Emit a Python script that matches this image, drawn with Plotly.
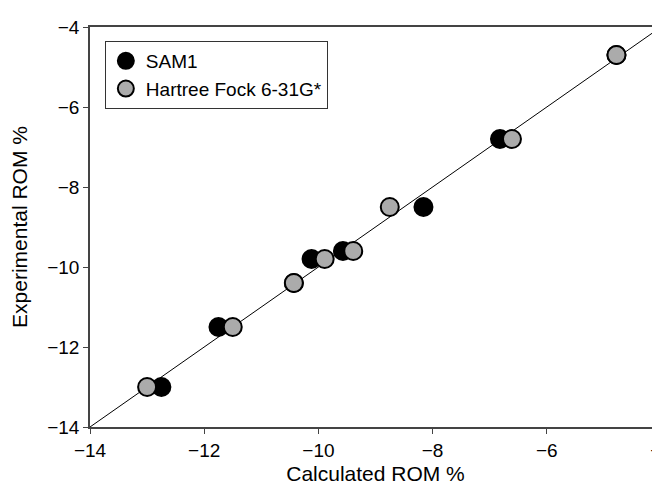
import plotly.graph_objects as go

# Data
sam1_calc = [-12.75, -11.75, -10.43, -10.12, -9.57, -8.16, -6.82, -4.78]
sam1_exp = [-13.0, -11.5, -10.4, -9.8, -9.6, -8.5, -6.8, -4.7]
hf_calc = [-13.0, -11.5, -10.43, -9.89, -9.39, -8.75, -6.61, -4.78]
hf_exp = [-13.0, -11.5, -10.4, -9.8, -9.6, -8.5, -6.8, -4.7]
line_x = [-14, -4]
line_y = [-14, -4]
tick_vals = [-14, -12, -10, -8, -6, -4]

FONT = "Liberation Sans, Arial, sans-serif"

fig = go.Figure()
fig.add_trace(go.Scatter(x=line_x, y=line_y, mode="lines",
                         line=dict(color="black", width=1), showlegend=False,
                         hoverinfo="skip"))
fig.add_trace(go.Scatter(x=sam1_calc, y=sam1_exp, mode="markers", name="SAM1",
                         marker=dict(size=18, color="black",
                                     line=dict(color="black", width=2))))
fig.add_trace(go.Scatter(x=hf_calc, y=hf_exp, mode="markers",
                         name="Hartree Fock 6-31G*",
                         marker=dict(size=18, color="#ababab",
                                     line=dict(color="black", width=2))))

axis_common = dict(range=[-14, -4], tickvals=tick_vals, ticks="outside",
                   ticklen=5, tickwidth=1.2, tickcolor="#444",
                   showline=True, linecolor="#444", linewidth=1.5,
                   mirror=True, showgrid=False, zeroline=False,
                   automargin=False,
                   ticklabeloverflow="allow",
                   tickfont=dict(family=FONT, size=19, color="black"))

fig.update_xaxes(**axis_common,
                 title=dict(text="Calculated ROM %", standoff=7,
                            font=dict(family=FONT, size=21, color="black")))
fig.update_yaxes(**axis_common,
                 title=dict(text="Experimental ROM %", standoff=14,
                            font=dict(family=FONT, size=21, color="black")))

fig.update_layout(
    width=660, height=484,
    margin=dict(l=82, r=7, t=19, b=65),
    paper_bgcolor="white", plot_bgcolor="white",
    font=dict(family=FONT, color="black"),
    legend=dict(x=0.026, y=0.965, xanchor="left", yanchor="top",
                bordercolor="#333", borderwidth=1, bgcolor="white",
                font=dict(family=FONT, size=19, color="black"),
                tracegroupgap=0),
)

fig.write_html("out.html")
